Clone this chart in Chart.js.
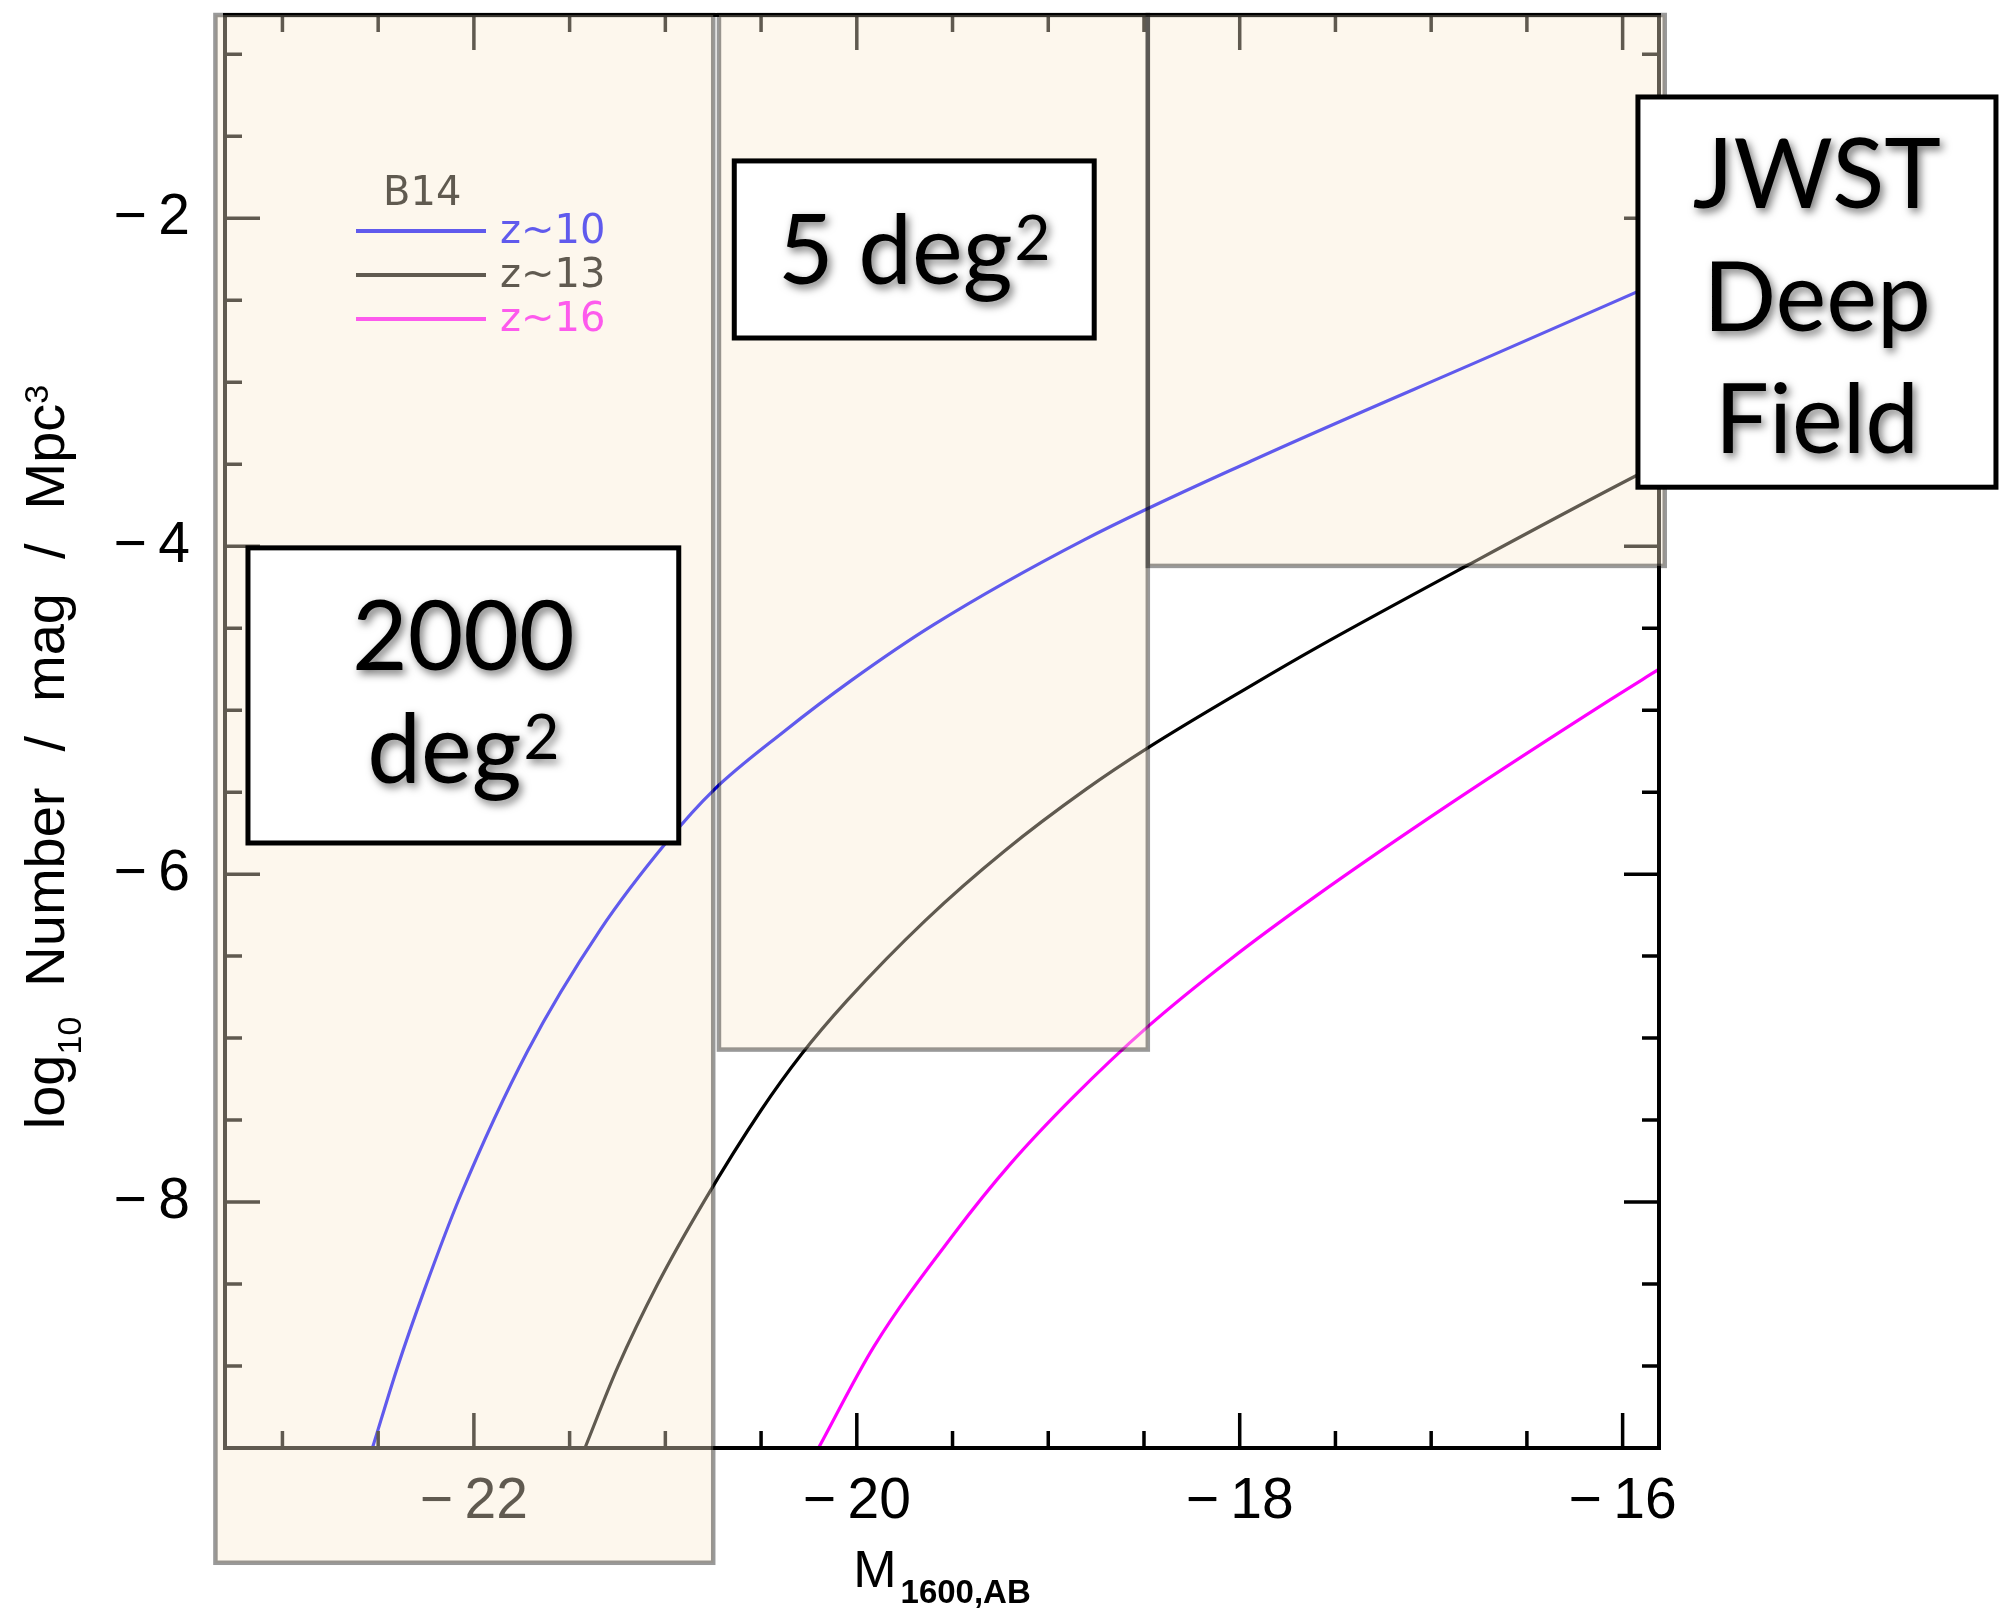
<!DOCTYPE html>
<html>
<head>
<meta charset="utf-8">
<script src="https://cdn.jsdelivr.net/npm/chart.js@4.4.1/dist/chart.umd.min.js"></script>
<style>
  html, body { margin: 0; padding: 0; background: #fff; }
  canvas { display: block; }
</style>
</head>
<body>
<canvas id="lf" width="2002" height="1610"></canvas>
<script>
// B14 UV luminosity functions at z~10, 13, 16 (log10 number density vs M1600)
const seriesLabels = ['z~10', 'z~13', 'z~16'];
const seriesColors = ['#0000ff', '#000000', '#ff00ff'];

const z10Mag = [-22.53, -22.40, -22.26, -22.07, -21.72, -21.34, -20.99, -20.75, -20.38, -20.03, -19.60, -18.81, -17.94, -16.67, -15.81];
const z10Phi = [-9.50, -9.01, -8.54, -7.96, -7.08, -6.34, -5.80, -5.49, -5.13, -4.82, -4.48, -3.96, -3.48, -2.83, -2.39];

const z13Mag = [-21.42, -21.25, -21.04, -20.80, -20.50, -20.29, -20.05, -19.64, -19.23, -18.80, -18.48, -17.94, -17.60, -16.80, -15.93, -15.81];
const z13Phi = [-9.50, -9.01, -8.50, -8.00, -7.44, -7.10, -6.77, -6.28, -5.86, -5.48, -5.23, -4.85, -4.62, -4.11, -3.57, -3.50];

const z16Mag = [-20.20, -19.91, -19.49, -19.20, -18.87, -18.48, -18.05, -17.61, -16.90, -16.07, -15.81];
const z16Phi = [-9.50, -8.88, -8.19, -7.77, -7.36, -6.93, -6.52, -6.14, -5.57, -4.94, -4.75];

const xTicks = [-22, -20, -18, -16];
const yTicks = [-8, -6, -4, -2];

// survey windows: bright/faint magnitude limits and the lowest density reached
const surveyNames = ['2000 deg²', '5 deg²', 'JWST Deep Field'];
const surveyMagBright = [-23.35, -20.72, -18.48];
const surveyMagFaint = [-20.75, -18.48, -15.78];
const surveyPhiLimit = [-10.2, -7.07, -4.12];

const FONT_TICK = "'Liberation Sans Narrow', 'Liberation Sans', Arial, sans-serif";
const FONT_TEXT = "'Liberation Sans', Arial, sans-serif";
const FONT_KEY = "'DejaVu Sans', sans-serif";
const FONT_BOX = "Lato, 'Open Sans', sans-serif";

// label boxes, in data coordinates; baselines are offsets from the box top
const boxes = [
  { x0: -23.18, x1: -20.93, y0: -4.01, y1: -5.81, lines: [['2000', ''], ['deg', '2']], base: [122, 235] },
  { x0: -20.64, x1: -18.76, y0: -1.65, y1: -2.73, lines: [['5 deg', '2']], base: [123] },
  { x0: -15.92, x1: -14.05, y0: -1.26, y1: -3.64, lines: [['JWST', ''], ['Deep', ''], ['Field', '']], base: [111, 234, 356] }
];

const fmt = v => (v < 0 ? '\u2212\u2009' : '') + Math.abs(v);

const frame = {
  id: 'frame',
  afterDatasetsDraw(chart) {
    const { ctx, chartArea: a, scales: { x, y } } = chart;
    ctx.save();
    ctx.strokeStyle = '#000';
    ctx.lineWidth = 4;
    ctx.strokeRect(a.left, a.top, a.right - a.left, a.bottom - a.top);

    // inward ticks on all four sides, minor every 0.5
    ctx.lineWidth = 3.5;
    ctx.beginPath();
    for (let v = Math.ceil(x.min * 2) / 2; v <= x.max; v += 0.5) {
      const px = x.getPixelForValue(v);
      const len = xTicks.includes(v) ? 35 : 17;
      ctx.moveTo(px, a.bottom); ctx.lineTo(px, a.bottom - len);
      ctx.moveTo(px, a.top); ctx.lineTo(px, a.top + len);
    }
    for (let v = Math.ceil(y.min * 2) / 2; v <= y.max; v += 0.5) {
      const py = y.getPixelForValue(v);
      const len = yTicks.includes(v) ? 35 : 17;
      ctx.moveTo(a.left, py); ctx.lineTo(a.left + len, py);
      ctx.moveTo(a.right, py); ctx.lineTo(a.right - len, py);
    }
    ctx.stroke();

    // key
    ctx.fillStyle = '#000';
    ctx.font = '40px ' + FONT_KEY;
    ctx.textBaseline = 'alphabetic';
    ctx.textAlign = 'left';
    ctx.fillText('B14', 383, 205);
    ctx.lineWidth = 4;
    ctx.textBaseline = 'middle';
    chart.data.datasets.forEach((ds, i) => {
      const ly = 231 + i * 44;
      ctx.strokeStyle = ds.borderColor;
      ctx.beginPath();
      ctx.moveTo(356, ly); ctx.lineTo(486, ly);
      ctx.stroke();
      ctx.fillStyle = ds.borderColor;
      ctx.fillText(ds.label, 500, ly + 2);
    });

    // x title: M with subscript
    ctx.fillStyle = '#000';
    ctx.textBaseline = 'alphabetic';
    ctx.font = '52px ' + FONT_TEXT;
    const mW = ctx.measureText('M').width;
    ctx.font = 'bold 33px ' + FONT_TICK;
    const sW = ctx.measureText('1600,AB').width;
    let tx = (a.left + a.right) / 2 - (mW + 4 + sW) / 2;
    ctx.font = '52px ' + FONT_TEXT;
    ctx.fillText('M', tx, 1587);
    ctx.font = 'bold 33px ' + FONT_TICK;
    ctx.fillText('1600,AB', tx + mW + 4, 1603);

    // y title, rotated, built from pieces
    const parts = [
      ['log', 56, 0, 0], ['10', 34, 17, 30], ['Number', 56, 0, 36], ['/', 56, 0, 34],
      ['mag', 56, 0, 34], ['/', 56, 0, 34], ['Mpc', 56, 0, 0], ['3', 34, -16, 0]
    ];
    let total = 0;
    parts.forEach(p => { ctx.font = p[1] + 'px ' + FONT_TEXT; p.push(ctx.measureText(p[0]).width); total += p[4] + p[3]; });
    ctx.translate(64, 757);
    ctx.rotate(-Math.PI / 2);
    let cx = -total / 2;
    parts.forEach(p => {
      ctx.font = p[1] + 'px ' + FONT_TEXT;
      ctx.fillText(p[0], cx, p[2]);
      cx += p[4] + p[3];
    });
    ctx.restore();
  },
  afterDraw(chart) {
    const { ctx, scales: { x, y } } = chart;
    ctx.save();
    const top = y.getPixelForValue(y.max);
    const rects = surveyNames.map((n, i) => {
      const x0 = x.getPixelForValue(surveyMagBright[i]);
      const x1 = x.getPixelForValue(surveyMagFaint[i]);
      return [x0, top, x1 - x0, y.getPixelForValue(surveyPhiLimit[i]) - top];
    });
    ctx.fillStyle = 'rgba(250,234,208,0.384)';
    rects.forEach(r => ctx.fillRect(...r));
    ctx.strokeStyle = 'rgba(0,0,0,0.4)';
    ctx.lineWidth = 4.5;
    rects.forEach(r => ctx.strokeRect(...r));

    boxes.forEach(b => {
      const x0 = x.getPixelForValue(b.x0), x1 = x.getPixelForValue(b.x1);
      const y0 = y.getPixelForValue(b.y0), y1 = y.getPixelForValue(b.y1);
      ctx.fillStyle = '#fff';
      ctx.fillRect(x0, y0, x1 - x0, y1 - y0);
      ctx.strokeStyle = '#000';
      ctx.lineWidth = 5;
      ctx.strokeRect(x0, y0, x1 - x0, y1 - y0);

      const cxm = (x0 + x1) / 2, fs = 96, ss = 62;
      ctx.save();
      ctx.shadowColor = 'rgba(0,0,0,0.55)';
      ctx.shadowBlur = 8;
      ctx.shadowOffsetX = 3;
      ctx.shadowOffsetY = 4;
      ctx.fillStyle = '#000';
      ctx.textAlign = 'left';
      ctx.textBaseline = 'alphabetic';
      b.lines.forEach((ln, i) => {
        ctx.font = fs + 'px ' + FONT_BOX;
        const w1 = ctx.measureText(ln[0]).width;
        ctx.font = ss + 'px ' + FONT_BOX;
        const w2 = ln[1] ? ctx.measureText(ln[1]).width + 2 : 0;
        const sx = cxm - (w1 + w2) / 2;
        const by = y0 + b.base[i];
        ctx.font = fs + 'px ' + FONT_BOX;
        ctx.fillText(ln[0], sx, by);
        if (ln[1]) {
          ctx.font = ss + 'px ' + FONT_BOX;
          ctx.fillText(ln[1], sx + w1 + 2, by - 24);
        }
      });
      ctx.restore();
    });
    ctx.restore();
  }
};

const whiteBg = {
  id: 'whiteBg',
  beforeDraw(chart) {
    const { ctx, width, height } = chart;
    ctx.save();
    ctx.fillStyle = '#fff';
    ctx.fillRect(0, 0, width, height);
    ctx.restore();
  }
};

const toPoints = (m, p) => m.map((v, i) => ({ x: v, y: p[i] }));

// keep the axes from reserving room for edge labels
const noEdgePad = s => { s.paddingTop = 0; s.paddingBottom = 0; s.paddingLeft = 0; s.paddingRight = 0; };

new Chart(document.getElementById('lf'), {
  type: 'line',
  data: {
    datasets: [
      { label: seriesLabels[0], data: toPoints(z10Mag, z10Phi), borderColor: seriesColors[0] },
      { label: seriesLabels[1], data: toPoints(z13Mag, z13Phi), borderColor: seriesColors[1] },
      { label: seriesLabels[2], data: toPoints(z16Mag, z16Phi), borderColor: seriesColors[2] }
    ]
  },
  options: {
    responsive: false,
    devicePixelRatio: 1,
    animation: false,
    layout: { autoPadding: false, padding: { top: 15, right: 343, left: 0, bottom: 0 } },
    elements: {
      line: { borderWidth: 3.2, cubicInterpolationMode: 'monotone', fill: false },
      point: { radius: 0, hoverRadius: 0 }
    },
    plugins: { legend: { display: false }, tooltip: { enabled: false } },
    scales: {
      x: {
        type: 'linear',
        min: -23.3,
        max: -15.81,
        grid: { display: false, drawTicks: false },
        border: { display: false },
        afterBuildTicks: s => { s.ticks = xTicks.map(v => ({ value: v })); },
        afterFit: s => { s.height = 162; noEdgePad(s); },
        ticks: { color: '#000', padding: 20, maxRotation: 0, font: { family: FONT_TICK, size: 57 }, callback: fmt }
      },
      y: {
        type: 'linear',
        min: -9.5,
        max: -0.76,
        grid: { display: false, drawTicks: false },
        border: { display: false },
        afterBuildTicks: s => { s.ticks = yTicks.map(v => ({ value: v })); },
        afterFit: s => { s.width = 225; noEdgePad(s); },
        ticks: { color: '#000', padding: 35, font: { family: FONT_TICK, size: 57 }, callback: fmt }
      }
    }
  },
  plugins: [whiteBg, frame]
});
</script>
</body>
</html>
